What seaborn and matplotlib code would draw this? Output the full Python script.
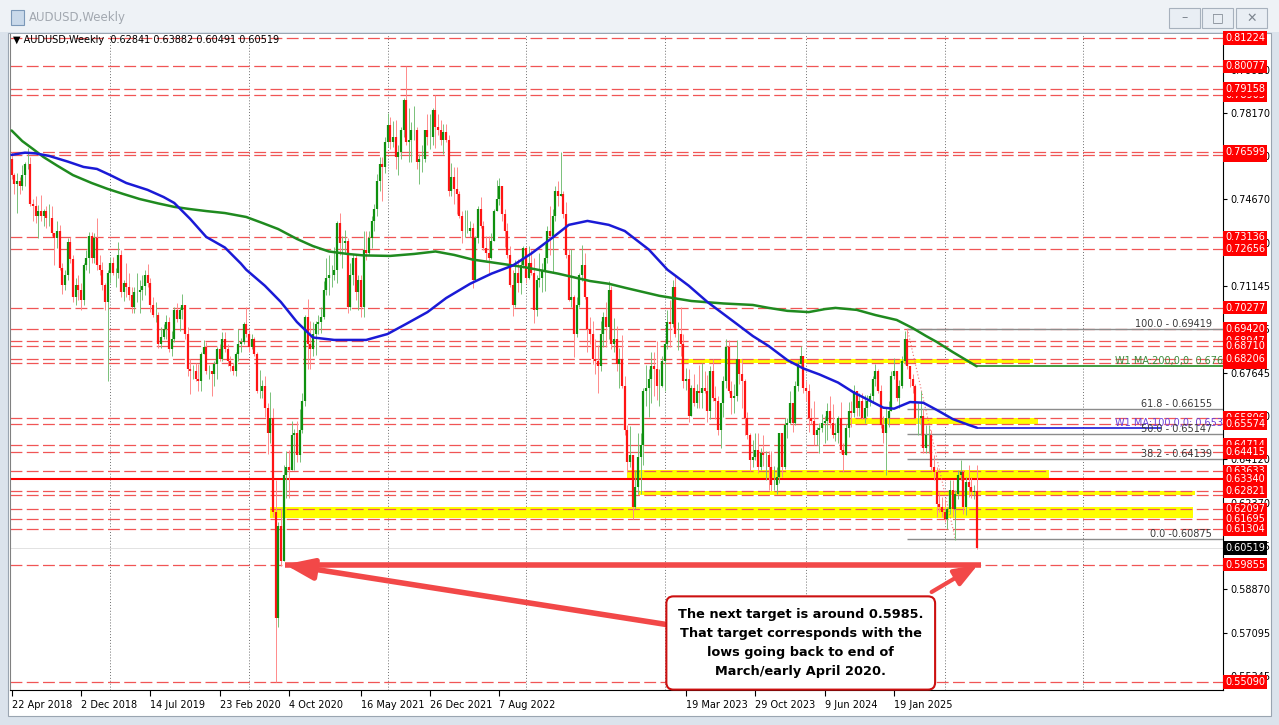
import matplotlib
matplotlib.use("Agg")
import numpy as np
import pandas as pd
import matplotlib.pyplot as plt
import matplotlib.patches as mpatches
import seaborn as sns

sns.set_style("white")
plt.rcParams["font.family"] = ["DejaVu Sans"]

# -----------------------------
# AUDUSD weekly bars, 22 Apr 2018 .. 30 Mar 2025, prices in pips (x 1e-4)
# -----------------------------
first_open = 7630

closes = [
    # 2018
    7565, 7530, 7540, 7520, 7565, 7610, 7610, 7450, 7440, 7400, 7420, 7400, 7420, 7390, 7390, 7330, 7310, 7340, 7190,
    7120, 7160, 7295, 7225, 7070, 7120, 7100, 7060, 7200, 7230, 7320, 7230, 7310, 7200, 7180, 7120, 7050, 7170,
    # 2019
    7210, 7170, 7170, 7240, 7090, 7130, 7110, 7080, 7030, 7090, 7090, 7100, 7115, 7160, 7130, 7040, 7000, 7000, 6880,
    6910, 6940, 6970, 6860, 6900, 7020, 6980, 7020, 7040, 6920, 6780, 6770, 6770, 6740, 6730, 6840, 6870, 6770, 6770,
    6760, 6800, 6860, 6820, 6900, 6860, 6810, 6790, 6770, 6840, 6880, 6890, 6960, 6920,
    # 2020
    6870, 6900, 6840, 6690, 6690, 6710, 6620, 6520, 6580, 6200, 5770, 6140, 6000, 6350, 6380, 6370, 6510, 6520, 6430,
    6530, 6650, 6990, 6880, 6860, 6920, 6960, 6970, 6990, 7100, 7150, 7160, 7160, 7180, 7370, 7290, 7290, 7300, 7030,
    7160, 7230, 7090, 7140, 7030, 7260, 7250, 7310, 7380, 7430, 7540, 7610, 7600, 7700,
    # 2021
    7770, 7700, 7720, 7640, 7660, 7750, 7870, 7700, 7710, 7750, 7750, 7620, 7630, 7630, 7750, 7720, 7720, 7830, 7760,
    7750, 7710, 7740, 7710, 7500, 7560, 7510, 7490, 7400, 7340, 7340, 7340, 7350, 7140, 7310, 7430, 7360, 7270, 7250,
    7230, 7300, 7420, 7470, 7520, 7410, 7340, 7240, 7120, 7040, 7170, 7130, 7200, 7270,
    # 2022
    7150, 7210, 7170, 7020, 7140, 7150, 7180, 7230, 7340, 7320, 7400, 7500, 7480, 7490, 7410, 7240, 7060, 7070, 6920,
    7040, 7160, 7200, 7070, 6940, 6920, 6820, 6810, 6790, 6920, 6990, 6950, 7100, 6880, 6900, 6800, 6820, 6710, 6530,
    6400, 6430, 6220, 6300, 6420, 6470, 6690, 6700, 6740, 6790, 6780, 6710, 6710, 6810,
    # 2023
    6880, 6970, 6960, 7110, 6920, 6920, 6880, 6730, 6740, 6590, 6700, 6640, 6690, 6680, 6700, 6690, 6610, 6770, 6660,
    6650, 6530, 6640, 6730, 6870, 6690, 6660, 6670, 6820, 6760, 6730, 6580, 6510, 6410, 6420, 6450, 6380, 6440, 6430,
    6430, 6380, 6310, 6310, 6340, 6520, 6380, 6550, 6560, 6640, 6560, 6710, 6800, 6830, 6700,
    # 2024
    6690, 6580, 6570, 6510, 6530, 6540, 6560, 6570, 6610, 6560, 6510, 6520, 6580, 6450, 6430, 6540, 6610, 6600, 6690,
    6620, 6650, 6580, 6620, 6650, 6670, 6740, 6770, 6690, 6550, 6520, 6580, 6610, 6750, 6770, 6660, 6710, 6810, 6900,
    6790, 6740, 6710, 6580, 6580, 6590, 6460, 6510, 6510, 6380, 6360, 6230, 6220, 6200,
    # 2025
    6170, 6210, 6290, 6210, 6270, 6350, 6360, 6220, 6320, 6300, 6280, 6284, 6052,
]

highs = [
    7660, 7575, 7575, 7560, 7605, 7620, 7677, 7640, 7470, 7480, 7445, 7484, 7430, 7440, 7450, 7440, 7330, 7380, 7365,
    7210, 7180, 7310, 7315, 7240, 7150, 7160, 7130, 7210, 7260, 7335, 7335, 7330, 7393, 7240, 7215, 7130, 7180,
    7235, 7235, 7190, 7296, 7260, 7140, 7210, 7170, 7110, 7110, 7170, 7140, 7160, 7180, 7207, 7150, 7070, 7050, 7010,
    6950, 6960, 7000, 6990, 6935, 7030, 7045, 7030, 7082, 7040, 6950, 6820, 6795, 6805, 6800, 6850, 6895, 6890, 6795,
    6770, 6810, 6870, 6880, 6930, 6930, 6880, 6830, 6805, 6850, 6940, 6905, 6970, 7031,
    6935, 6920, 6910, 6850, 6775, 6735, 6750, 6640, 6685, 6620, 6330, 6160, 6215, 6390, 6445, 6450, 6570, 6535, 6570,
    6615, 6680, 7000, 7064, 6975, 6970, 6975, 7000, 7030, 7135, 7230, 7240, 7200, 7275, 7380, 7413, 7320, 7345, 7310,
    7210, 7245, 7240, 7160, 7160, 7340, 7340, 7340, 7400, 7450, 7570, 7640, 7640, 7720,
    7820, 7800, 7785, 7790, 7690, 7760, 7880, 8007, 7840, 7780, 7848, 7760, 7650, 7690, 7750, 7815, 7815, 7840, 7891,
    7815, 7790, 7775, 7775, 7730, 7615, 7600, 7600, 7500, 7420, 7425, 7425, 7380, 7370, 7320, 7440, 7478, 7380, 7320,
    7320, 7330, 7430, 7545, 7556, 7520, 7430, 7370, 7280, 7180, 7220, 7225, 7230, 7280,
    7275, 7277, 7260, 7230, 7160, 7250, 7210, 7285, 7360, 7440, 7430, 7520, 7540, 7661, 7500, 7455, 7265, 7265, 7080,
    7070, 7170, 7283, 7250, 7070, 6990, 6975, 6900, 6875, 6975, 7010, 7050, 7137, 7115, 6985, 6955, 6865, 6915, 6750,
    6550, 6547, 6430, 6370, 6520, 6520, 6700, 6797, 6780, 6850, 6850, 6893, 6780, 6830,
    6890, 7020, 7060, 7140, 7158, 6970, 7030, 6920, 6785, 6780, 6715, 6760, 6720, 6795, 6805, 6770, 6755, 6790, 6818,
    6710, 6670, 6640, 6750, 6900, 6895, 6730, 6720, 6895, 6820, 6820, 6740, 6605, 6520, 6490, 6520, 6520, 6460, 6510,
    6445, 6445, 6445, 6385, 6380, 6520, 6520, 6580, 6580, 6690, 6640, 6730, 6810, 6871, 6830,
    6730, 6720, 6620, 6650, 6545, 6560, 6595, 6590, 6640, 6668, 6635, 6560, 6590, 6645, 6480, 6555, 6645, 6650, 6714,
    6690, 6680, 6680, 6675, 6675, 6680, 6750, 6798, 6780, 6715, 6590, 6620, 6650, 6770, 6825, 6770, 6735, 6830, 6935,
    6942, 6790, 6760, 6720, 6640, 6690, 6615, 6550, 6550, 6530, 6430, 6380, 6280, 6260,
    6250, 6220, 6330, 6330, 6290, 6370, 6409, 6370, 6340, 6390, 6340, 6310, 6388,
]

lows = [
    7550, 7490, 7412, 7490, 7505, 7520, 7590, 7440, 7380, 7370, 7310, 7380, 7360, 7350, 7360, 7320, 7202, 7270, 7180,
    7085, 7100, 7140, 7210, 7050, 7040, 7060, 7020, 7040, 7180, 7170, 7210, 7210, 7180, 7160, 7100, 7020, 6730,
    7130, 7160, 7110, 7150, 7070, 7055, 7070, 7060, 7005, 7005, 7050, 7005, 7060, 7080, 7110, 7010, 6990, 6970, 6865,
    6865, 6900, 6900, 6850, 6830, 6890, 6970, 6935, 6980, 6900, 6750, 6677, 6740, 6730, 6690, 6690, 6840, 6760, 6740,
    6670, 6710, 6740, 6810, 6810, 6850, 6790, 6770, 6755, 6750, 6810, 6850, 6880, 6910,
    6850, 6860, 6830, 6680, 6660, 6660, 6585, 6435, 6480, 6180, 5509, 5730, 5980, 6010, 6255, 6255, 6370, 6370, 6400,
    6400, 6520, 6630, 6780, 6780, 6830, 6835, 6920, 6925, 6980, 7080, 7080, 7110, 7140, 7130, 7240, 7190, 7250, 7005,
    7020, 7120, 7060, 7020, 6990, 6990, 7220, 7240, 7270, 7340, 7400, 7500, 7460, 7575,
    7680, 7670, 7680, 7590, 7565, 7630, 7720, 7690, 7620, 7620, 7710, 7590, 7530, 7580, 7620, 7690, 7670, 7690, 7675,
    7730, 7690, 7650, 7700, 7480, 7480, 7450, 7410, 7390, 7290, 7315, 7330, 7315, 7106, 7140, 7290, 7350, 7260, 7220,
    7170, 7225, 7300, 7420, 7445, 7380, 7275, 7230, 7110, 6993, 7030, 7090, 7085, 7190,
    7130, 7145, 7160, 6967, 6995, 7110, 7090, 7095, 7210, 7240, 7170, 7380, 7440, 7480, 7390, 7230, 7055, 7030, 6829,
    6910, 7030, 7135, 7065, 6850, 6880, 6800, 6760, 6681, 6770, 6870, 6870, 6900, 6860, 6850, 6770, 6700, 6700, 6510,
    6362, 6380, 6170, 6210, 6270, 6272, 6390, 6630, 6585, 6640, 6670, 6655, 6630, 6705,
    6690, 6860, 6870, 6950, 6910, 6855, 6830, 6700, 6695, 6564, 6590, 6630, 6620, 6620, 6620, 6680, 6565, 6575, 6650,
    6575, 6510, 6458, 6585, 6700, 6680, 6595, 6600, 6650, 6720, 6620, 6510, 6495, 6365, 6380, 6410, 6357, 6370, 6385,
    6330, 6286, 6285, 6290, 6270, 6315, 6340, 6375, 6500, 6555, 6525, 6550, 6690, 6790, 6680,
    6650, 6525, 6555, 6470, 6470, 6440, 6525, 6480, 6490, 6540, 6500, 6485, 6480, 6440, 6362, 6430, 6505, 6545, 6585,
    6590, 6590, 6575, 6560, 6590, 6630, 6640, 6710, 6680, 6540, 6480, 6348, 6545, 6610, 6740, 6650, 6620, 6700, 6800,
    6780, 6705, 6680, 6580, 6510, 6510, 6440, 6440, 6440, 6370, 6330, 6180, 6200, 6180,
    6160, 6130, 6190, 6180, 6087, 6250, 6330, 6190, 6185, 6260, 6255, 6250, 6049,
]

# weekly moving averages (bar index, price)
ma200_bar = [0, 4, 8, 12, 17, 23, 30, 36, 42, 48, 55, 61, 67, 73, 80, 88, 94, 100, 107, 113, 119, 126, 132, 142,
             151, 159, 166, 173, 180, 192, 205, 217, 224, 230, 243, 255, 267, 278, 284, 291, 299, 305, 309, 317,
             324, 332, 338, 343, 347, 353, 362]
ma200_val = [0.7747, 0.7704, 0.7672, 0.7639, 0.7605, 0.7566, 0.7534, 0.7510, 0.7489, 0.7469, 0.7451, 0.7437,
             0.7428, 0.7420, 0.7412, 0.7396, 0.7372, 0.7347, 0.7307, 0.7278, 0.7256, 0.7246, 0.7240, 0.7238,
             0.7246, 0.7256, 0.7242, 0.7223, 0.7212, 0.7193, 0.7166, 0.7136, 0.7125, 0.7109, 0.7076, 0.7055,
             0.7045, 0.7039, 0.7027, 0.7015, 0.7010, 0.7022, 0.7027, 0.7019, 0.6998, 0.6978, 0.6945, 0.6913,
             0.6889, 0.6848, 0.6790]
ma100_bar = [0, 5, 9, 14, 21, 27, 32, 37, 43, 51, 57, 61, 67, 73, 80, 86, 88, 95, 101, 107, 113, 121, 133, 141,
             148, 156, 163, 172, 180, 188, 195, 203, 209, 216, 224, 230, 239, 246, 254, 261, 272, 278, 284, 291,
             297, 303, 310, 316, 322, 327, 331, 337, 342, 347, 353, 359, 362]
ma100_val = [0.7648, 0.7657, 0.7654, 0.7644, 0.7621, 0.7599, 0.7591, 0.7566, 0.7534, 0.7506, 0.7477, 0.7453,
             0.7388, 0.7315, 0.7272, 0.7207, 0.7182, 0.7117, 0.7051, 0.6970, 0.6907, 0.6897, 0.6897, 0.6921,
             0.6962, 0.7010, 0.7067, 0.7125, 0.7166, 0.7199, 0.7248, 0.7313, 0.7364, 0.7380, 0.7364, 0.7339,
             0.7264, 0.7182, 0.7117, 0.7051, 0.6962, 0.6913, 0.6872, 0.6815, 0.6781, 0.6757, 0.6724, 0.6683,
             0.6650, 0.6622, 0.6618, 0.6645, 0.6642, 0.6613, 0.6576, 0.6552, 0.6541]

# horizontal levels
dashed_levels = [0.81224, 0.80077, 0.79158, 0.78905, 0.76599, 0.76475, 0.73136, 0.72656, 0.70277, 0.69420, 0.68947,
                 0.68710, 0.68206, 0.68050, 0.65806, 0.65574, 0.64714, 0.64415, 0.63633, 0.62821, 0.62690, 0.62097,
                 0.61695, 0.61304, 0.59855, 0.55090]
solid_level = 0.63340
target_level = 0.59855
current_price = 0.60519
label_levels = [0.78905, 0.76475, 0.68947, 0.68050, 0.65806, 0.64714, 0.63633,
                0.81224, 0.80077, 0.79158, 0.76599, 0.73136, 0.72656, 0.70277, 0.69420, 0.68710, 0.68206, 0.65574,
                0.64415, 0.63340, 0.62821, 0.62097, 0.61695, 0.61304, 0.59855, 0.55090]
axis_ticks = [0.79920, 0.78170, 0.76420, 0.74670, 0.72920, 0.71145, 0.69395, 0.67645, 0.65870, 0.64120, 0.62370,
              0.60595, 0.58870, 0.57095, 0.55345]

# yellow zones: start bar, end bar, top, bottom
zone_start = [251, 314, 231, 235, 97]
zone_end = [383, 385, 389, 444, 443]
zone_top = [0.68206, 0.65806, 0.63700, 0.62821, 0.62190]
zone_bot = [0.68050, 0.65574, 0.63380, 0.62680, 0.61750]

# fibonacci retracement from the Sep 2024 high to the Feb 2025 low
fib_start, fib_end = 336, 354
fib_text = ["100.0 - 0.69419", "61.8 - 0.66155", "50.0 - 0.65147", "38.2 - 0.64139", "0.0 -0.60875"]
fib_level = [0.69419, 0.66155, 0.65147, 0.64139, 0.60875]

# date axis
date_bars = [0, 26, 52, 78, 104, 131, 157, 183, 253, 279, 305, 331]
date_labels = ["22 Apr 2018", "2 Dec 2018", "14 Jul 2019", "23 Feb 2020", "4 Oct 2020", "16 May 2021",
               "26 Dec 2021", "7 Aug 2022", "19 Mar 2023", "29 Oct 2023", "9 Jun 2024", "19 Jan 2025"]
year_start_bars = [37, 89, 141, 193, 245, 298, 350, 402]

note = ("The next target is around 0.5985.\nThat target corresponds with the\n"
        "lows going back to end of\nMarch/early April 2020.")

# -----------------------------
# Build frame
# -----------------------------
opens = [first_open] + closes[:-1]
df = pd.DataFrame({"open": opens, "high": highs, "low": lows, "close": closes}) / 1e4
df["bar"] = np.arange(len(df))
df["up"] = df["close"] >= df["open"]

W, H = 1279, 725
fig = plt.figure(figsize=(W / 100, H / 100), dpi=100, facecolor="#dbe3ec")


def fx(px):
    return px / W


def fy(py):
    return 1 - py / H


def chrome_rect(x0, y0, x1, y1, **kw):
    r = mpatches.Rectangle((fx(x0), fy(y1)), (x1 - x0) / W, (y1 - y0) / H, transform=fig.transFigure,
                           zorder=-10, **kw)
    fig.patches.append(r)


# window chrome
chrome_rect(0, 0, W, 32, facecolor="#eef2f6", edgecolor="none")
chrome_rect(8, 33, 1271, 716, facecolor="white", edgecolor="#9aa5b1", lw=0.8)
chrome_rect(11, 10, 24, 25, facecolor="#c9d9ea", edgecolor="#7b98b8", lw=0.8)
fig.text(fx(29), fy(18), "AUDUSD,Weekly", fontsize=8.5, color="#a2a8b0", va="center")
for bx, sym in zip([1169, 1202, 1236], ["\u2013", "\u25a1", "\u2715"]):
    chrome_rect(bx, 8, bx + 31, 28, facecolor="#e9eef4", edgecolor="#a7b1bd", lw=0.8)
    fig.text(fx(bx + 15.5), fy(18), sym, fontsize=9, color="#7d858f", ha="center", va="center")

ax = fig.add_axes([fx(10), fy(690), (1223 - 10) / W, (690 - 34) / H])
ax.set_zorder(5)
ax.set_facecolor("white")
ax.set_xlim(-0.6, -0.6 + 1213 / 2.666)
ax.set_ylim(0.54763, 0.81386)

ax.spines["top"].set_visible(False)
ax.spines["left"].set_color("#808080")
ax.spines["right"].set_color("black")
ax.spines["bottom"].set_color("black")
for s in ["left", "right", "bottom"]:
    ax.spines[s].set_linewidth(0.8)

# grid (year starts)
for b in year_start_bars:
    ax.axvline(b, color="#707070", lw=0.7, ls=(0, (1, 2)), zorder=1)

# yellow zones
for x0, x1, t, b in zip(zone_start, zone_end, zone_top, zone_bot):
    ax.add_patch(mpatches.Rectangle((x0, b), x1 - x0, t - b, facecolor="#ffff00", edgecolor="none", zorder=1.5))

# dashed horizontal levels
for lv in dashed_levels:
    ax.axhline(lv, color="#f05555", lw=0.9, ls=(0, (9.5, 3.5)), zorder=2)
ax.axhline(solid_level, color="#ff0000", lw=1.5, zorder=2.2)
ax.axhline(current_price, color="#e2e2e2", lw=0.7, zorder=1.8)

# candles
wick_col = np.where(df["up"], "#79c179", "#ff8a8a")
body_col = np.where(df["up"], "#0e900e", "#ff1414")
ax.vlines(df["bar"], df[["low", "open", "close"]].min(axis=1), df[["high", "open", "close"]].max(axis=1),
          colors=wick_col, lw=0.7, zorder=4)
ax.vlines(df["bar"], df[["open", "close"]].min(axis=1), df[["open", "close"]].max(axis=1),
          colors=body_col, lw=1.6, zorder=5)

# moving averages
sns.lineplot(x=ma200_bar, y=ma200_val, ax=ax, color="#1f8a1f", linewidth=1.8, sort=False, legend=False, zorder=6)
sns.lineplot(x=ma100_bar, y=ma100_val, ax=ax, color="#1a1ad6", linewidth=1.8, sort=False, legend=False, zorder=6)
ax.hlines(ma200_val[-1], ma200_bar[-1], ax.get_xlim()[1], color="#1f8a1f", lw=1.2, zorder=6)
ax.hlines(ma100_val[-1], ma100_bar[-1], 431, color="#1a1ad6", lw=1.2, zorder=6)
ax.text(0.911, ma200_val[-1], "W1 MA:200,0,0: 0.67630", transform=ax.get_yaxis_transform(), fontsize=7,
        color="#3c8c3c", va="bottom", zorder=7)
ax.text(0.911, ma100_val[-1], "W1 MA:100,0,0: 0.65347", transform=ax.get_yaxis_transform(), fontsize=7,
        color="#6a40d8", va="bottom", zorder=7)

# fibonacci
for txt, lv in zip(fib_text, fib_level):
    ax.hlines(lv, fib_start, ax.get_xlim()[1], color="#8c8c8c", lw=1.0, zorder=3)
    ax.text(0.991, lv, txt, transform=ax.get_yaxis_transform(), fontsize=7, color="#3a3a3a",
            ha="right", va="bottom", zorder=8)
ax.plot([fib_start, fib_end], [fib_level[0], fib_level[-1]], color="#f07070", lw=0.8, ls=(0, (1, 2)), zorder=3)

# target line, note and arrows
arrow_col = "#f24848"
ax.hlines(target_level, 102.5, 363.5, color=arrow_col, lw=4, zorder=7)
ax.annotate("", xy=(102.5, target_level), xytext=(246.8, 0.57401),
            arrowprops=dict(arrowstyle="-|>,head_length=1.2,head_width=0.45", color=arrow_col, lw=4,
                            shrinkA=0, shrinkB=0, mutation_scale=14), zorder=8)
ax.annotate("", xy=(362.5, target_level), xytext=(345.1, 0.58740),
            arrowprops=dict(arrowstyle="-|>,head_length=1.2,head_width=0.45", color=arrow_col, lw=3,
                            shrinkA=0, shrinkB=0, mutation_scale=12), zorder=8)
ax.text(296, 0.56671, note, ha="center", va="center", fontsize=9.3, fontweight="bold", color="black",
        linespacing=1.6, zorder=9,
        bbox=dict(boxstyle="round,pad=0.9,rounding_size=0.55", facecolor="white", edgecolor="#cc1010", lw=1.5))

# right price axis
ax.yaxis.tick_right()
ax.set_yticks(axis_ticks)
ax.set_yticklabels([f"{v:.5f}" for v in axis_ticks])
ax.tick_params(axis="y", length=3, width=0.8, labelsize=7, pad=2, colors="black", right=True, left=False)
for lv in label_levels:
    ax.text(1.0 + 2 / 1213, lv, f"{lv:.5f}", transform=ax.get_yaxis_transform(), ha="left", va="center",
            fontsize=7, color="white", clip_on=False, zorder=20,
            bbox=dict(boxstyle="square,pad=0.18", facecolor="#ff0000", edgecolor="none"))
ax.text(1.0 + 2 / 1213, current_price, f"{current_price:.5f}", transform=ax.get_yaxis_transform(), ha="left",
        va="center", fontsize=7, color="white", clip_on=False, zorder=21,
        bbox=dict(boxstyle="square,pad=0.18", facecolor="black", edgecolor="none"))

# date axis
ax.set_xticks(date_bars)
ax.set_xticklabels(date_labels)
ax.tick_params(axis="x", length=4, width=0.8, labelsize=7, pad=3, colors="black", bottom=True)
for lab in ax.get_xticklabels():
    lab.set_ha("left")

ax.set_xlabel("")
ax.set_ylabel("")

# header line
fig.text(fx(13), fy(40), "\u25bc AUDUSD,Weekly  0.62841 0.63882 0.60491 0.60519", fontsize=7, color="black",
         va="center", zorder=10)

fig.savefig("out.png", dpi=100, facecolor=fig.get_facecolor())
